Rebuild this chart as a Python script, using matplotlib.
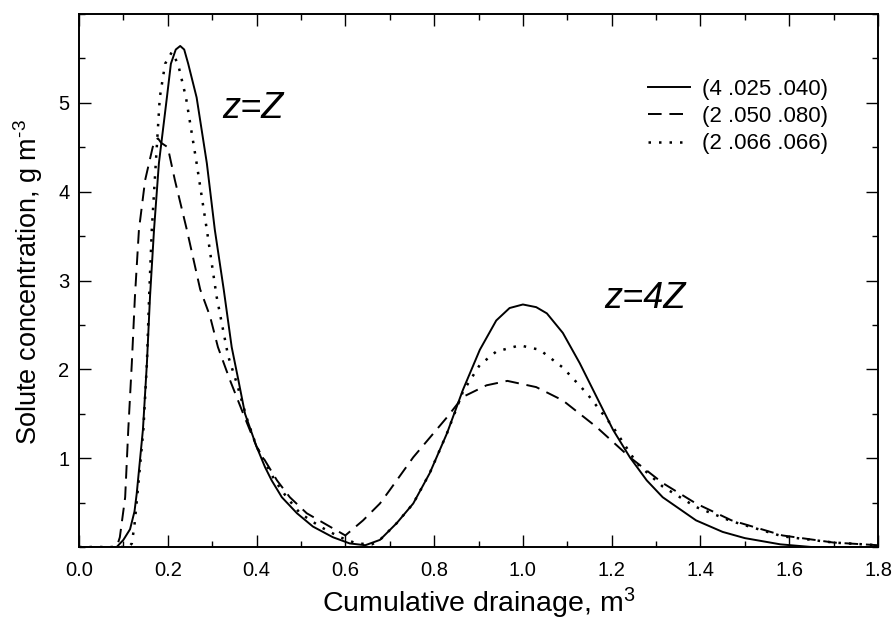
import matplotlib
matplotlib.use("Agg")
import matplotlib.pyplot as plt
from matplotlib.ticker import MultipleLocator

plt.rcParams['font.family'] = ['Liberation Sans', 'DejaVu Sans']
plt.rcParams['mathtext.fontset'] = 'custom'
plt.rcParams['mathtext.rm'] = 'Liberation Sans'
plt.rcParams['mathtext.it'] = 'Liberation Sans:italic'

# Series (4 .025 .040) - solid
x_solid = [0.0, 0.085, 0.10, 0.115, 0.125, 0.130, 0.144, 0.153, 0.160, 0.169, 0.180, 0.198,
           0.207, 0.218, 0.228, 0.237, 0.246, 0.265, 0.288, 0.306, 0.326, 0.344, 0.359, 0.374,
           0.40, 0.419, 0.434, 0.457, 0.491, 0.527, 0.572, 0.61, 0.645, 0.678, 0.716, 0.753,
           0.79, 0.829, 0.865, 0.903, 0.94, 0.97, 1.0, 1.03, 1.054, 1.09, 1.128, 1.166, 1.203,
           1.241, 1.279, 1.315, 1.39, 1.45, 1.50, 1.58, 1.65, 1.8]
y_solid = [0.0, 0.0, 0.08, 0.2, 0.4, 0.6, 1.32, 2.07, 2.82, 3.57, 4.32, 5.06,
           5.44, 5.6, 5.64, 5.6, 5.44, 5.06, 4.32, 3.57, 2.9, 2.25, 1.88, 1.5,
           1.13, 0.9, 0.75, 0.56, 0.38, 0.23, 0.11, 0.04, 0.02, 0.08, 0.27, 0.49,
           0.83, 1.28, 1.77, 2.22, 2.55, 2.69, 2.73, 2.70, 2.63, 2.41, 2.07, 1.69, 1.32,
           1.01, 0.75, 0.56, 0.30, 0.17, 0.1, 0.03, 0.0, 0.0]

# Series (2 .050 .080) - dashed
x_dash = [0.0, 0.085, 0.092, 0.104, 0.111, 0.119, 0.126, 0.135, 0.149, 0.166, 0.172, 0.178,
          0.185, 0.2, 0.216, 0.243, 0.273, 0.295, 0.313, 0.34, 0.37, 0.40, 0.446, 0.475,
          0.513, 0.565, 0.60, 0.64, 0.678, 0.70, 0.753, 0.829, 0.865, 0.918, 0.965, 1.03,
          1.09, 1.166, 1.241, 1.315, 1.39, 1.47, 1.585, 1.70, 1.8]
y_dash = [0.0, 0.0, 0.11, 0.56, 1.32, 2.07, 2.82, 3.57, 4.13, 4.5, 4.58, 4.6,
          4.55, 4.5, 4.13, 3.57, 2.9, 2.6, 2.25, 1.88, 1.5, 1.13, 0.75, 0.56,
          0.38, 0.23, 0.13, 0.30, 0.49, 0.64, 1.01, 1.46, 1.69, 1.82, 1.87, 1.8,
          1.65, 1.35, 1.01, 0.72, 0.49, 0.30, 0.13, 0.05, 0.02]

# Series (2 .066 .066) - dotted
x_dot = [0.0, 0.112, 0.119, 0.125, 0.131, 0.145, 0.153, 0.158, 0.164, 0.173, 0.182, 0.194,
         0.209, 0.223, 0.241, 0.265, 0.288, 0.31, 0.336, 0.355, 0.378, 0.40, 0.441, 0.468,
         0.498, 0.543, 0.588, 0.625, 0.66, 0.678, 0.716, 0.753, 0.79, 0.829, 0.865, 0.903,
         0.94, 0.993, 1.038, 1.09, 1.144, 1.203, 1.257, 1.315, 1.39, 1.47, 1.585, 1.70, 1.8]
y_dot = [0.0, 0.0, 0.04, 0.25, 0.56, 1.32, 2.07, 2.82, 3.57, 4.32, 5.06, 5.44,
         5.57, 5.44, 5.06, 4.32, 3.57, 2.82, 2.15, 1.85, 1.45, 1.13, 0.75, 0.56,
         0.38, 0.23, 0.11, 0.04, 0.03, 0.08, 0.27, 0.49, 0.83, 1.28, 1.75, 2.05,
         2.2, 2.27, 2.22, 2.02, 1.73, 1.35, 0.94, 0.68, 0.45, 0.29, 0.12, 0.05, 0.02]

labels = ['(4 .025 .040)', '(2 .050 .080)', '(2 .066 .066)']
x_ticks = [0.0, 0.2, 0.4, 0.6, 0.8, 1.0, 1.2, 1.4, 1.6, 1.8]
x_ticklabels = ['0.0', '0.2', '0.4', '0.6', '0.8', '1.0', '1.2', '1.4', '1.6', '1.8']
y_ticks = [1, 2, 3, 4, 5]

fig = plt.figure(figsize=(8.92, 6.19), dpi=100)
ax = fig.add_axes([79/892, 1-547/619, (878-79)/892, (547-14)/619])

ax.plot(x_solid, y_solid, color='black', lw=1.4, ls='-', label=labels[0])
ax.plot(x_dash, y_dash, color='black', lw=1.4, ls=(0, (7, 4)), label=labels[1])
ax.plot(x_dot, y_dot, color='black', lw=1.8, ls=(0, (1, 3.2)), label=labels[2])

ax.set_xlim(0, 1.8)
ax.set_ylim(0, 6)
ax.set_xticks(x_ticks)
ax.set_xticklabels(x_ticklabels)
ax.set_yticks(y_ticks)
ax.xaxis.set_minor_locator(MultipleLocator(0.1))
ax.yaxis.set_minor_locator(MultipleLocator(0.5))
ax.tick_params(which='both', direction='in', top=True, right=True, labelsize=14.5)
ax.tick_params(axis='x', which='major', pad=10)
ax.tick_params(axis='y', which='major', pad=7)
ax.tick_params(which='major', length=8.5, width=1.0)
ax.tick_params(which='minor', length=4, width=1.0)
for s in ax.spines.values():
    s.set_linewidth(1.4)

ax.set_xlabel('Cumulative drainage, m$^3$', fontsize=20.5)
ax.set_ylabel(r'Solute concentration, g m$^{\text{-}3}$', fontsize=19.5)
ax.xaxis.set_label_coords(0.5, -0.072)
ax.yaxis.set_label_coords(-0.042, 0.497)

ax.text(0.392, 4.94, 'z=Z', fontsize=26, style='italic', ha='center', va='center')
ax.text(1.275, 2.80, 'z=4Z', fontsize=26, style='italic', ha='center', va='center')

ax.legend(loc='upper left', bbox_to_anchor=((648-79)/799, (547-79)/533), frameon=False,
          fontsize=16, handlelength=1.9, handletextpad=0.55, labelspacing=0.28,
          borderpad=0, borderaxespad=0)

fig.savefig('out.png', dpi=100)
